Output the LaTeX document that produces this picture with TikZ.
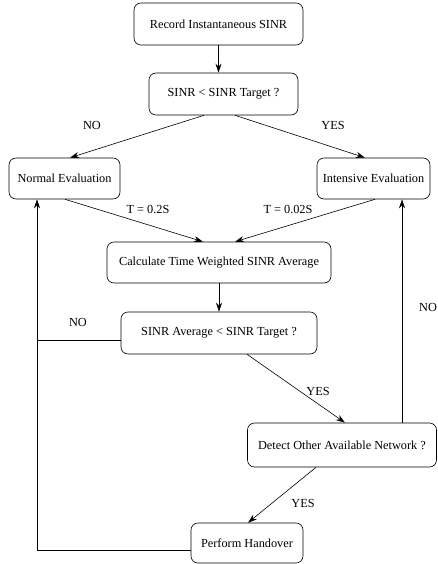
\documentclass[tikz,border=0pt]{standalone}
\usepackage{fontspec}
\setmainfont{Liberation Serif}
\usetikzlibrary{arrows.meta}
\begin{document}
\begin{tikzpicture}[x=1pt,y=-1pt,
  box/.style={draw, rounded corners=7pt, line width=0.6pt, inner sep=0pt, font=\fontsize{12.3}{14}\selectfont},
  conn/.style={line width=0.6pt, -{Stealth[length=9pt,width=6pt]}},
  plain/.style={line width=0.6pt},
  lbl/.style={font=\fontsize{12.3}{14}\selectfont, inner sep=0pt}]
\useasboundingbox (0,0) rectangle (438,564);
\node[box, minimum width=169pt, minimum height=42pt] (rec) at (218.5,24) {Record Instantaneous SINR};
\node[box, minimum width=149pt, minimum height=42pt] (cmp) at (223.5,94) {SINR < SINR Target ?};
\node[box, minimum width=111pt, minimum height=41pt] (nor) at (64.5,178.5) {Normal Evaluation};
\node[box, minimum width=113pt, minimum height=41pt] (int) at (373.5,178.5) {Intensive Evaluation};
\node[box, minimum width=224pt, minimum height=41pt] (calc) at (219,262.5) {Calculate Time Weighted SINR Average};
\node[box, minimum width=196pt, minimum height=42pt] (avg) at (219,333) {SINR Average < SINR Target ?};
\node[box, minimum width=189pt, minimum height=44pt] (det) at (342,445) {Detect Other Available Network ?};
\node[box, minimum width=112pt, minimum height=40pt] (perf) at (247,543) {Perform Handover};

\draw[conn] (rec.south) -- (rec.south |- cmp.north);
\draw[conn] ([xshift=-19.5pt]cmp.south) -- ([xshift=5.5pt]nor.north);
\draw[conn] ([xshift=11.5pt]cmp.south) -- ([xshift=-8.5pt]int.north);
\draw[conn] ([xshift=0.5pt]nor.south) -- ([xshift=-16pt]calc.north);
\draw[conn] ([xshift=1.5pt]int.south) -- ([xshift=16pt]calc.north);
\draw[conn] (calc.south) -- (avg.north);
\draw[conn] ([xshift=28pt]avg.south) -- ([xshift=3pt]det.north);
\draw[conn] ([xshift=-26pt]det.south) -- ([xshift=1pt]perf.north);
\draw[conn] ([xshift=60pt]det.north) -- ([xshift=60pt]det.north |- int.south);
\coordinate (lx) at ([xshift=-27.5pt]nor.south);
\draw[conn] ([yshift=-7pt]perf.west) -- ([yshift=-7pt]perf.west -| lx) -- (lx);
\draw[plain] ([yshift=-7pt]avg.west) -- ([yshift=-7pt]avg.west -| lx);

\node[lbl] (l1) at (92,125) {NO};
\node[lbl] (l2) at (333,125) {YES};
\node[lbl] (l3) at (148,209) {T = 0.2S};
\node[lbl] (l4) at (288,209) {T = 0.02S};
\node[lbl] (l5) at (78,322) {NO};
\node[lbl] (l6) at (428,307) {NO};
\node[lbl] (l7) at (318,391) {YES};
\node[lbl] (l8) at (303,503) {YES};
\end{tikzpicture}
\end{document}
